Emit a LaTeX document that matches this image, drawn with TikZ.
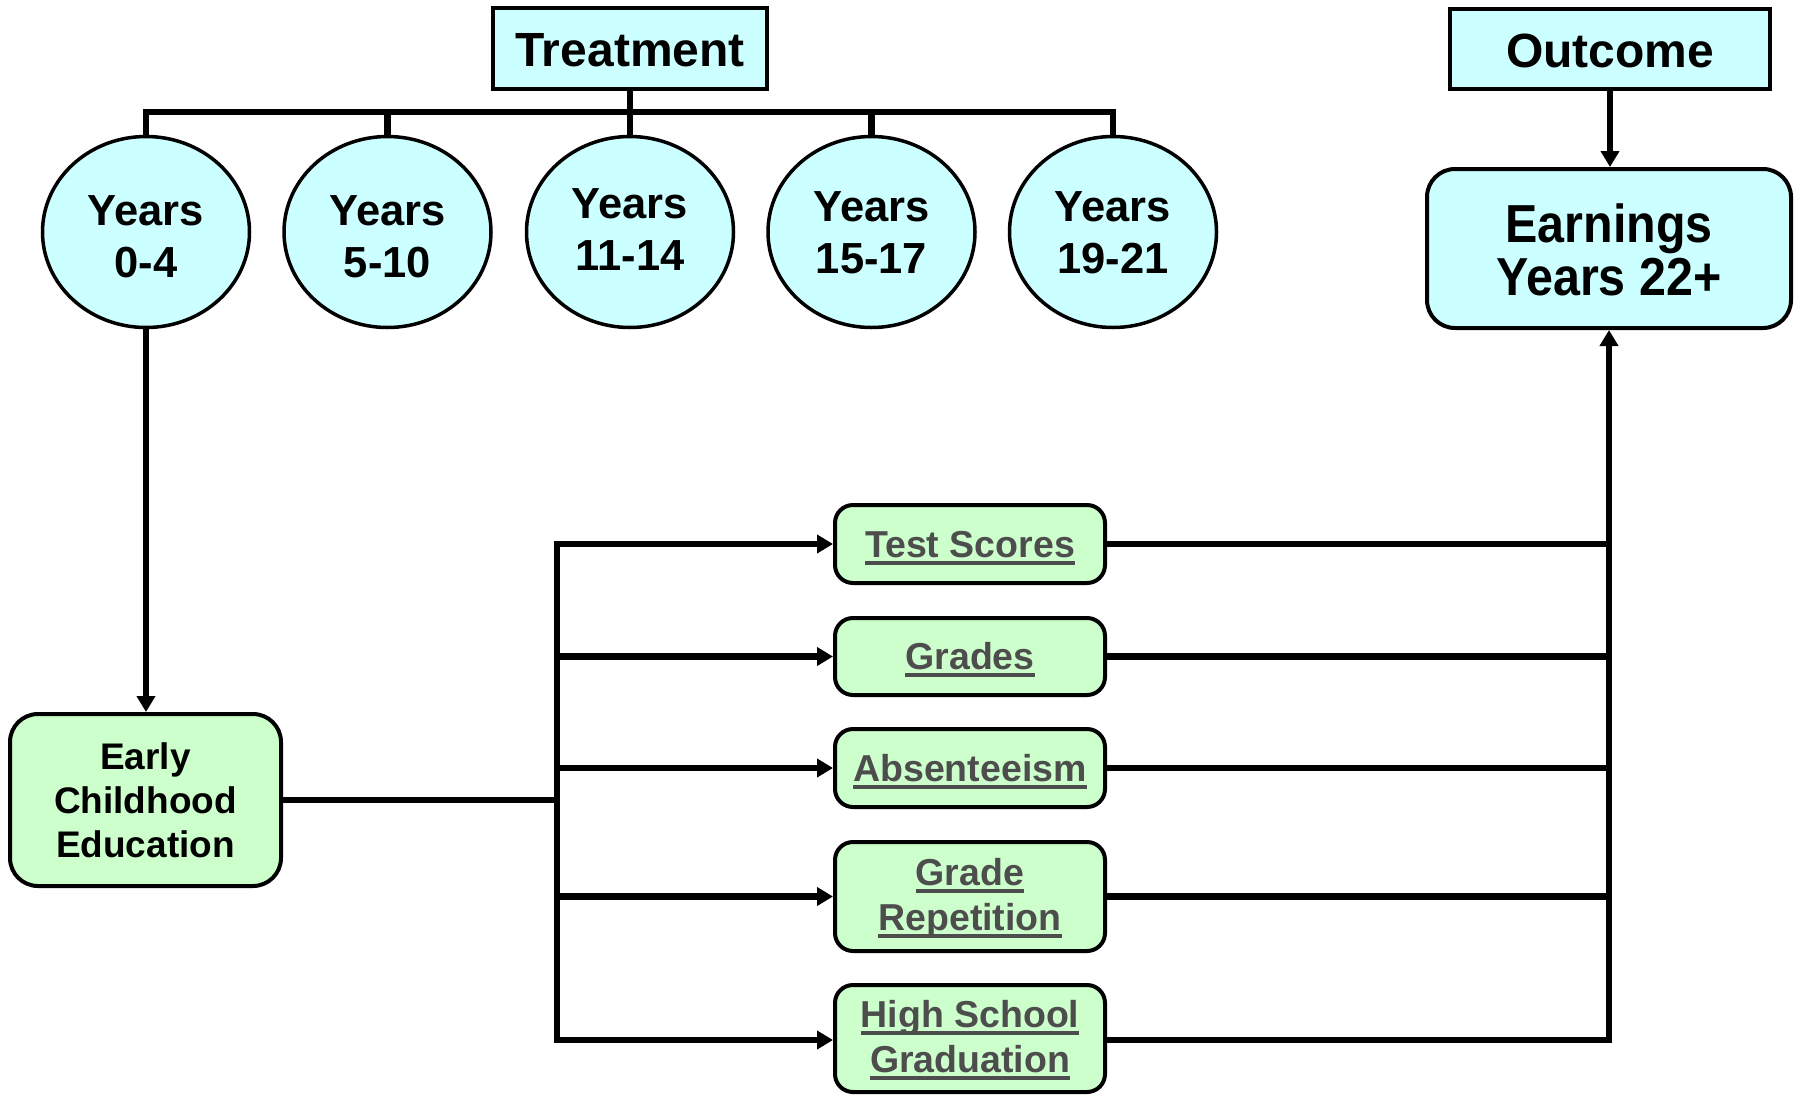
\documentclass[tikz,border=0pt]{standalone}
\usepackage{fontspec}
\setmainfont{Liberation Sans}
\newfontfamily\tallfont{Liberation Sans}[FakeStretch=0.905]
\usetikzlibrary{arrows.meta,shapes.geometric,calc}
\definecolor{cyanfill}{HTML}{CCFFFF}
\definecolor{greenfill}{HTML}{CCFFCC}
\definecolor{txtgray}{HTML}{4D4D4D}
\newsavebox\ulbox
\newcommand\myul[1]{\sbox\ulbox{#1}\rlap{\rule[-7.5pt]{\wd\ulbox}{4pt}}\usebox\ulbox}
\begin{document}
\begin{tikzpicture}[x=1pt,y=-1pt,
  conn/.style={line width=6.5pt},
  arr/.style={conn,-{Triangle[length=16pt,width=18pt]}},
  headbox/.style={draw,line width=4pt,fill=cyanfill,inner sep=0pt,align=center,
    text height=36pt,text depth=0pt,font=\bfseries\fontsize{48}{52}\selectfont},
  yearell/.style={ellipse,draw,line width=3.5pt,fill=cyanfill,minimum width=207pt,
    minimum height=191pt,inner sep=0pt,align=center,text depth=0pt,
    font=\bfseries\fontsize{43.5}{51.5}\selectfont},
  ecebox/.style={draw,line width=4pt,fill=greenfill,rounded corners=28pt,inner sep=0pt,
    align=center,minimum width=271pt,minimum height=172pt,font=\bfseries\fontsize{37}{44}\selectfont},
  medbox/.style={draw,line width=4pt,fill=greenfill,rounded corners=18pt,inner sep=0pt,
    align=center,minimum width=270pt,text=txtgray,text depth=0pt,
    font=\bfseries\fontsize{37.5}{45}\selectfont}
]
\useasboundingbox[fill=white] (0,0) rectangle (1796,1096);

% top boxes
\node[headbox,minimum width=274pt,minimum height=81pt] (treat) at (630,48.5) {Treatment};
\node[headbox,minimum width=320pt,minimum height=80pt] (outc) at (1610,49) {Outcome};

% year ellipses
\node[yearell,text height=90pt] (y1) at (146,232) {Years\\0-4};
\node[yearell,text height=90pt] (y2) at (387.5,232) {Years\\5-10};
\node[yearell,text height=76pt] (y3) at (630,232) {Years\\11-14};
\node[yearell,text height=82pt] (y4) at (871.5,232) {Years\\15-17};
\node[yearell,text height=82pt] (y5) at (1113,232) {Years\\19-21};

% earnings
\node[draw,line width=4pt,fill=cyanfill,rounded corners=28pt,inner sep=0pt,align=center,
  minimum width=364pt,minimum height=159pt,text height=93pt,text depth=0pt,
  font=\tallfont\bfseries\fontsize{53.5}{53}\selectfont]
  (earn) at (1609,248.5) {Earnings\\Years 22+};

% ECE
\node[ecebox] (ece) at (145.5,800) {Early\\Childhood\\Education};

% mediators
\node[medbox,minimum height=78pt,text height=26pt] (ts) at (970,544) {\myul{Test Scores}};
\node[medbox,minimum height=77pt,text height=25pt] (gr) at (970,656.5) {\myul{Grades}};
\node[medbox,minimum height=78pt,text height=26pt] (ab) at (970,768) {\myul{Absenteeism}};
\node[medbox,minimum height=109pt,text height=67pt] (rp) at (970,896.5) {\myul{Grade}\\\myul{Repetition}};
\node[medbox,minimum height=107pt,text height=68pt] (hs) at (970,1038.5) {\myul{High School}\\\myul{Graduation}};

% treatment bus
\coordinate (bus) at (0,112);
\draw[conn] (treat.south) -- (treat.south |- bus);
\draw[conn] (y1.north) -- (y1.north |- bus) -- (y5.north |- bus) -- (y5.north);
\foreach \n in {y2,y3,y4}{\draw[conn] (\n.north) -- (\n.north |- bus);}

% outcome arrow
\draw[arr] (outc.south) -- (outc.south |- earn.north);

% years 0-4 to ECE
\draw[arr] (y1.south) -- (y1.south |- ece.north);

% ECE to mediators
\coordinate (jl) at (557,800);
\draw[conn] (ece.east) -- (jl);
\foreach \n in {ts,gr,ab,rp}{\draw[arr] (jl) |- (\n.west);}
\draw[arr] (jl) |- (hs.west |- 0,1040);

% mediators to earnings
\foreach \n in {ts,gr,ab,rp}{\draw[conn] (\n.east) -- (\n.east -| earn.south);}
\draw[arr] (hs.east |- 0,1040) -| (earn.south);
\end{tikzpicture}
\end{document}
